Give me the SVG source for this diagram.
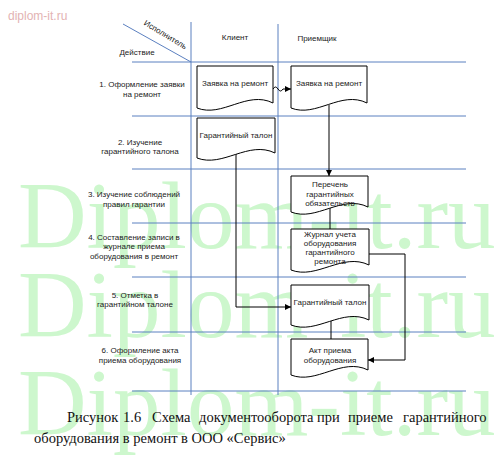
<svg xmlns="http://www.w3.org/2000/svg" width="499" height="460" viewBox="0 0 499 460">
<style>
.wm{font-family:"Liberation Serif",serif;font-size:95px;fill:#cdf7cd}
.lbl{font-family:"Liberation Sans",Arial,sans-serif;font-size:8px;fill:#222;text-anchor:middle}
.grid{stroke:#5b80c0;stroke-width:1;fill:none}
.doc{fill:#fff;stroke:#000;stroke-width:1}
.con{fill:none;stroke:#000;stroke-width:1}
.cap{font-family:"Liberation Serif",serif;font-size:14.5px;fill:#111}
</style>
<defs>
<marker id="ah" viewBox="0 0 10 10" refX="10" refY="5" markerWidth="8" markerHeight="6" markerUnits="userSpaceOnUse" orient="auto"><path d="M0,0 L10,5 L0,10 z" fill="#000"/></marker>
</defs>
<rect width="499" height="460" fill="#fff"/>
<g id="watermark">
<text class="wm" x="18" y="248">Diplom-it.ru</text>
<text class="wm" x="18" y="337">Diplom-it.ru</text>
<text class="wm" x="18" y="435">Diplom-it.ru</text>
<text x="8" y="20" style="font-family:'Liberation Sans',Arial,sans-serif;font-size:12px;fill:#e3b3b3">diplom-it.ru</text>
</g>
<g id="grid">
<line class="grid" x1="123" y1="24" x2="191" y2="62"/>
<line class="grid" x1="191" y1="22" x2="191" y2="395"/>
<line class="grid" x1="278" y1="24" x2="278" y2="395"/>
<line class="grid" x1="132" y1="62" x2="466" y2="62"/>
<line class="grid" x1="132" y1="116" x2="466" y2="116"/>
<line class="grid" x1="132" y1="169" x2="466" y2="169"/>
<line class="grid" x1="132" y1="223" x2="466" y2="223"/>
<line class="grid" x1="132" y1="277" x2="466" y2="277"/>
<line class="grid" x1="132" y1="332" x2="466" y2="332"/>
<line class="grid" x1="132" y1="391" x2="466" y2="391"/>
</g>
<g id="headers">
<text class="lbl" transform="translate(164,37) rotate(31)">Исполнитель</text>
<text class="lbl" x="137" y="55">Действие</text>
<text class="lbl" x="235" y="40">Клиент</text>
<text class="lbl" x="317" y="41">Приемщик</text>
</g>
<g id="rows">
<text class="lbl" x="142" y="87">1. Оформление заявки</text>
<text class="lbl" x="142" y="97">на ремонт</text>
<text class="lbl" x="140" y="145">2. Изучение</text>
<text class="lbl" x="140" y="154">гарантийного талона</text>
<text class="lbl" x="134" y="197">3. Изучение соблюдений</text>
<text class="lbl" x="134" y="207">правил гарантии</text>
<text class="lbl" x="134" y="240">4. Составление записи в</text>
<text class="lbl" x="134" y="249">журнале приема</text>
<text class="lbl" x="134" y="259">оборудования в ремонт</text>
<text class="lbl" x="135" y="298">5. Отметка в</text>
<text class="lbl" x="135" y="307">гарантийном талоне</text>
<text class="lbl" x="140" y="353">6. Оформление акта</text>
<text class="lbl" x="140" y="363">приема оборудования</text>
</g>
<g id="connectors">
<path class="con" d="M273,89 q2.5,-4 5,0 t5,0 L291,89" marker-end="url(#ah)"/>
<path class="con" d="M329,105 V176" marker-end="url(#ah)"/>
<path class="con" d="M330,208 V229"/>
<path class="con" d="M369,254 H405 V360 H368" marker-end="url(#ah)"/>
<path class="con" d="M236,154 V307 H291" marker-end="url(#ah)"/>
<path class="con" d="M331,321 V339"/>
</g>
<g id="d1">
<path class="doc" d="M197,66 H273 V103 C247.2,90 222.1,118 197,108 Z"/>
<text class="lbl" x="235" y="86">Заявка на ремонт</text>
</g>
<g id="d2">
<path class="doc" d="M291,66 H367 V103 C341.2,90 316.1,118 291,108 Z"/>
<text class="lbl" x="329" y="86">Заявка на ремонт</text>
</g>
<g id="d3">
<path class="doc" d="M197,118 H275 V153 C248.5,140 222.7,168 197,158 Z"/>
<text class="lbl" x="236" y="138">Гарантийный талон</text>
</g>
<g id="d4">
<path class="doc" d="M291,176 H368 V207 C341.8,194 316.4,222 291,212 Z"/>
<text class="lbl" x="330" y="187">Перечень</text>
<text class="lbl" x="330" y="197">гарантийных</text>
<text class="lbl" x="330" y="206">обязательств</text>
</g>
<g id="d5">
<path class="doc" d="M291,229 H369 V265 C342.5,252 316.7,280 291,270 Z"/>
<text class="lbl" x="330" y="237">Журнал учета</text>
<text class="lbl" x="330" y="246">оборудования</text>
<text class="lbl" x="330" y="255">гарантийного</text>
<text class="lbl" x="330" y="264">ремонта</text>
</g>
<g id="d6">
<path class="doc" d="M291,285 H369 V320 C342.5,307 316.7,335 291,325 Z"/>
<text class="lbl" x="330" y="305">Гарантийный талон</text>
</g>
<g id="d7">
<path class="doc" d="M291,339 H368 V370 C341.8,357 316.4,385 291,375 Z"/>
<text class="lbl" x="330" y="353">Акт приема</text>
<text class="lbl" x="330" y="363">оборудования</text>
</g>
<g id="caption">
<text class="cap" y="422"><tspan x="67">Рисунок</tspan><tspan x="123">1.6</tspan><tspan x="152">Схема</tspan><tspan x="199">документооборота</tspan><tspan x="317">при</tspan><tspan x="348">приеме</tspan><tspan x="403">гарантийного</tspan></text>
<text class="cap" x="34" y="443">оборудования в ремонт в ООО «Сервис»</text>
</g>
</svg>
